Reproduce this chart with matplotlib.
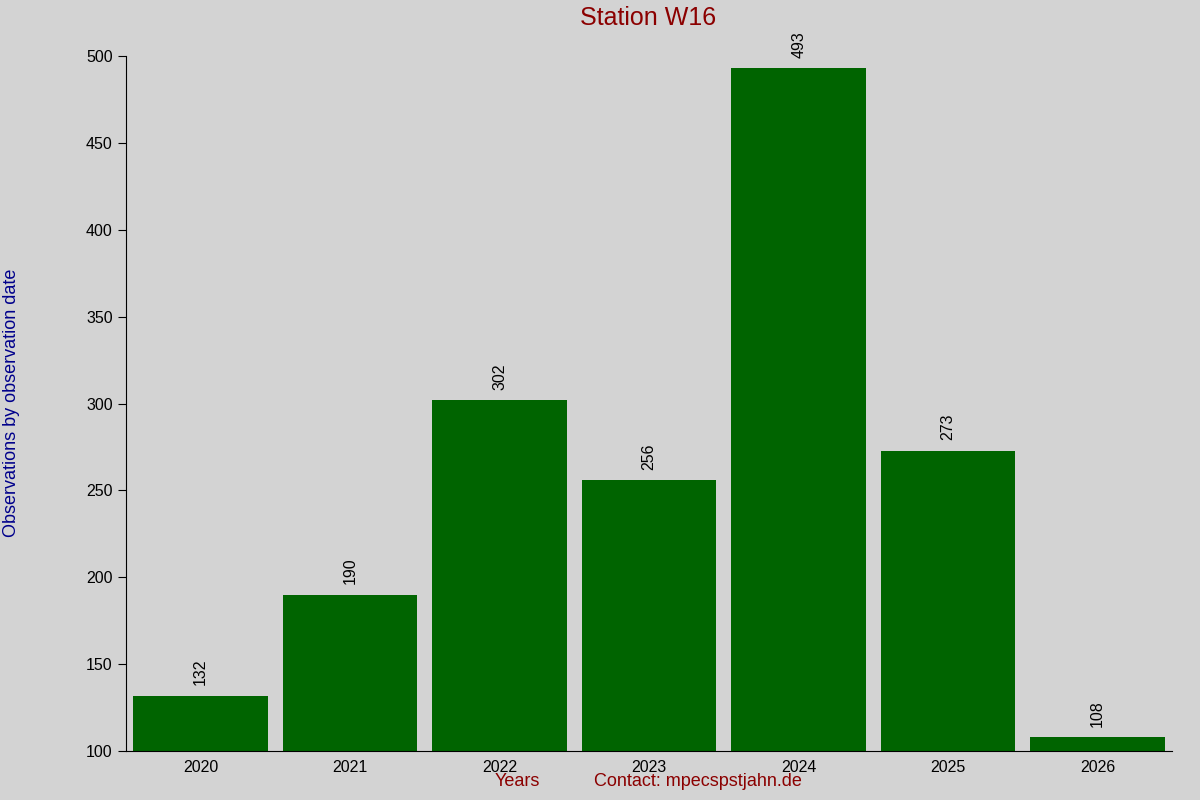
import matplotlib
matplotlib.use("Agg")
import matplotlib.pyplot as plt

years = ["2020", "2021", "2022", "2023", "2024", "2025", "2026"]
values = [132, 190, 302, 256, 493, 273, 108]

plt.rcParams['font.family'] = ['Liberation Sans', 'DejaVu Sans']
fig = plt.figure(figsize=(12, 8), dpi=100, facecolor='#d3d3d3')
ax = fig.add_axes([0.105, 0.061, 0.872, 0.869])
ax.set_facecolor('#d3d3d3')
x = list(range(len(years)))
ax.bar(x, values, width=0.9, color='#006400', bottom=0)
for xi, v in zip(x, values):
    ax.text(xi, v + 6, str(v), rotation=90, ha='center', va='bottom', fontsize=11.5, color='black')
ax.set_xlim(-0.5, 6.5)
ax.set_ylim(100, 500)
ax.set_xticks(x)
ax.set_xticklabels(years, fontsize=11.5)
ax.set_yticks(range(100, 501, 50))
ax.tick_params(axis='y', labelsize=11.5, direction='out', length=6)
ax.tick_params(axis='x', length=0, pad=6)
for s in ['top', 'right']:
    ax.spines[s].set_visible(False)
fig.text(0.54, 0.977, "Station W16", color='#8b0000', fontsize=18, ha='center', va='center')
fig.text(0.01, 0.497, "Observations by observation date", color='#00008b', fontsize=13,
         rotation=90, ha='center', va='center')
fig.text(0.431, 0.012, "Years", color='#8b0000', fontsize=13, ha='center', va='bottom')
fig.text(0.582, 0.012, "Contact: mpecspstjahn.de", color='#8b0000', fontsize=13, ha='center', va='bottom')
fig.savefig("out.png", dpi=100, facecolor=fig.get_facecolor())
